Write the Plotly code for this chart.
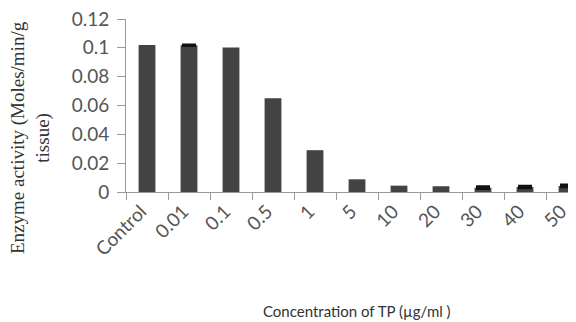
import plotly.graph_objects as go

categories = ["Control", "0.01", "0.1", "0.5", "1", "5", "10", "20", "30", "40", "50"]
activity = [0.1020, 0.1018, 0.1003, 0.0650, 0.0290, 0.0088, 0.0044, 0.0040, 0.0030, 0.0035, 0.0042]
errors = [None, 0.0004, None, None, None, None, None, None, 0.0008, 0.0007, 0.0008]
y_ticks = [0, 0.02, 0.04, 0.06, 0.08, 0.1, 0.12]
y_tick_text = ["0", "0.02", "0.04", "0.06", "0.08", "0.1", "0.12"]

# page body has an 8px margin: work in page pixels, then subtract the offset
OFF = 8
W, H = 576 - OFF, 322 - OFF
L, R, T, B = 126 - OFF, 0, 19 - OFF, 322 - 192
pw, ph = W - L - R, H - T - B

err_cats = [c for c, e in zip(categories, errors) if e is not None]
err_vals = [a for a, e in zip(activity, errors) if e is not None]
err_arr = [e for e in errors if e is not None]

fig = go.Figure()
fig.add_trace(go.Bar(
    x=categories, y=activity, width=0.4,
    marker=dict(color="#434343", line=dict(width=0)),
))
fig.add_trace(go.Scatter(
    x=err_cats, y=err_vals, mode="markers", marker=dict(size=1, opacity=0),
    error_y=dict(type="data", array=err_arr, visible=True, color="#111111",
                 thickness=2.5, width=7),
    hoverinfo="skip",
))

tickfont = dict(family="Lato, Carlito, Calibri, sans-serif", size=19, color="#555555")
fig.update_layout(
    width=W, height=H,
    margin=dict(l=L, r=R, t=T, b=B, pad=0),
    paper_bgcolor="white", plot_bgcolor="white",
    showlegend=False,
    xaxis=dict(
        type="category", range=[-0.5, -0.5 + pw / 42.0], automargin=False,
        showline=True, linecolor="#9a9a9a", linewidth=1,
        ticks="outside", tickson="boundaries", ticklen=7, tickcolor="#9a9a9a",
        tickangle=-45, tickfont=tickfont, showgrid=False, zeroline=False,
        ticklabelshift=-6,
    ),
    yaxis=dict(
        range=[0, 0.12], tickvals=y_ticks, ticktext=y_tick_text, automargin=False,
        showline=True, linecolor="#9a9a9a", linewidth=1,
        ticks="outside", ticklen=8, tickcolor="#9a9a9a",
        tickfont=tickfont, showgrid=False, zeroline=False,
        ticklabelstandoff=4, ticklabeloverflow="allow",
    ),
)

def px_x(p):
    return (p - OFF - L) / pw

def px_y(p):
    return 1 - (p - OFF - T) / ph

fig.add_annotation(
    text="Enzyme activity (Moles/min/g<br>tissue)",
    xref="paper", yref="paper", x=px_x(30), y=px_y(138),
    xanchor="center", yanchor="middle", textangle=-90, showarrow=False,
    font=dict(family="Liberation Serif, Times New Roman, serif", size=19, color="#333333"),
)
fig.add_annotation(
    text="Concentration of TP (\u00b5g/ml )",
    xref="paper", yref="paper", x=px_x(357), y=px_y(311),
    xanchor="center", yanchor="middle", showarrow=False,
    font=dict(family="Lato, Carlito, Calibri, sans-serif", size=15, color="#333333"),
)

fig.write_html("out.html")
